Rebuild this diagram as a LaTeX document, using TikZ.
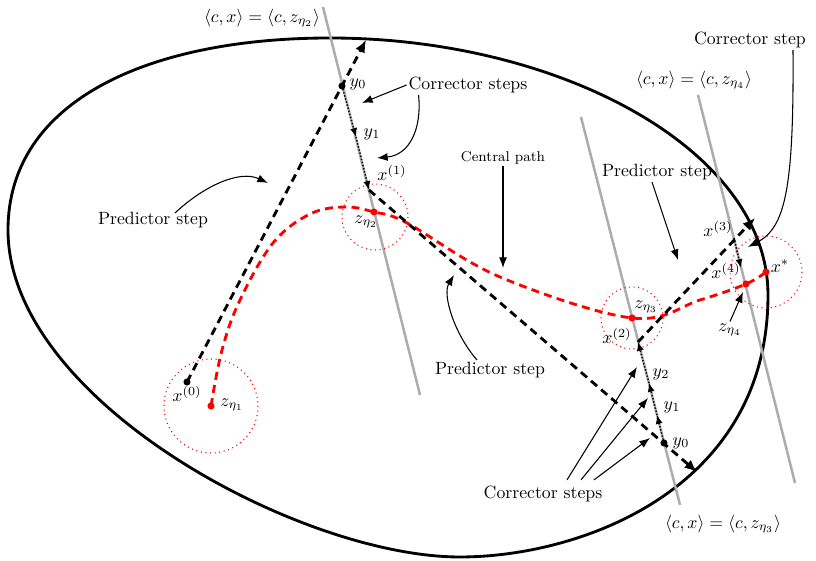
\documentclass[tikz,border=0pt]{standalone}
\usepackage{amsmath}
\usepackage{tikz}
\usetikzlibrary{arrows.meta, calc}

\begin{document}
\begin{tikzpicture}[
  x=0.0198cm, y=-0.0198cm,
  region/.style={ultra thick},
  level/.style={line width=1.4pt, gray!65},
  pred/.style={ultra thick, dash pattern=on 4.5pt off 3pt,
               -{Latex[length=7pt,width=6pt]}},
  corr/.style={thick, densely dotted, -{Latex[length=5pt,width=4pt]}},
  cpath/.style={ultra thick, red, dash pattern=on 4.5pt off 3pt},
  nbhd/.style={red, dotted, semithick},
  note/.style={semithick, -{Latex[length=6pt,width=4.5pt]}},
  lbl/.style={inner sep=1pt},
  dot/.style={circle, fill, inner sep=0pt, minimum size=4pt}
]
\useasboundingbox (0,0) rectangle (816,561);

%% feasible region
\draw[region] (8,230) .. controls (8,100) and (150,38) .. (330,38)
  .. controls (560,38) and (768,150) .. (768,295)
  .. controls (768,490) and (580,557) .. (460,557)
  .. controls (300,557) and (8,400) .. cycle;

%% level sets
\coordinate (h2a) at (323,7);   \coordinate (h2b) at (420,395);
\coordinate (h3a) at (581,117); \coordinate (h3b) at (680,505);
\coordinate (h4a) at (698,95);  \coordinate (h4b) at (795,483);
\draw[level] (h2a) -- (h2b);
\draw[level] (h3a) -- (h3b);
\draw[level] (h4a) -- (h4b);

%% iterates
\coordinate (x0)   at (187,382);
\coordinate (y0a)  at (342,86);
\coordinate (tip1) at (366,40);
\coordinate (y1a)  at (356,137);
\coordinate (x1)   at (369,190);
\coordinate (y0b)  at (664,443);
\coordinate (tip2) at (697,472);
\coordinate (y1b)  at (657,415);
\coordinate (y2b)  at (649,383);
\coordinate (x2)   at (638,342);
\coordinate (x3)   at (734,238);
\coordinate (tip3) at (755,218);
\coordinate (x4)   at (741,268);

%% central path
\coordinate (z1) at (211,406);
\coordinate (z2) at (374,212);
\coordinate (z3) at (632,318);
\coordinate (z4) at (746,284);
\coordinate (xs) at (766,272);

\draw[nbhd] (z1) circle (47);
\draw[nbhd] (375,217) circle (33);
\draw[nbhd] (z3) circle (31);
\draw[nbhd] (xs) circle (36);

\draw[cpath] plot[smooth, tension=0.6] coordinates {
  (z1) (222,350) (240,300) (273,243) (310,214) (345,207) (z2) (407,223)
  (500,277) (z3) (700,300) (z4) (xs)};

\draw[pred] (x0) -- (tip1);
\draw[corr] (y0a) -- (y1a);
\draw[corr] (y1a) -- (x1);
\draw[pred] (x1) -- (tip2);
\draw[corr] (y0b) -- (y1b);
\draw[corr] (y1b) -- (y2b);
\draw[corr] (y2b) -- (x2);
\draw[pred] (x2) -- (tip3);
\draw[corr] (x3) -- (x4);

\foreach \p in {x0, y0a, y0b}
  \node[dot] at (\p) {};
\foreach \p in {z1, z2, z3, z4, xs}
  \node[dot, red] at (\p) {};

%% point labels
\node[lbl] (lx0)  at (187,394) {$x^{(0)}$};
\node[lbl] (lz1)  at (232,405) {$z_{\eta_1}$};
\node[lbl] (ly0a) at (358,84)  {$y_0$};
\node[lbl] (ly1a) at (372,134) {$y_1$};
\node[lbl] (lx1)  at (392,173) {$x^{(1)}$};
\node[lbl] (lz2)  at (366,222) {$z_{\eta_2}$};
\node[lbl] (lz3)  at (646,307) {$z_{\eta_3}$};
\node[lbl] (lx2)  at (617,336) {$x^{(2)}$};
\node[lbl] (ly2b) at (661,374) {$y_2$};
\node[lbl] (ly1b) at (672,407) {$y_1$};
\node[lbl] (ly0b) at (681,443) {$y_0$};
\node[lbl] (lx3)  at (718,229) {$x^{(3)}$};
\node[lbl] (lx4)  at (726,271) {$x^{(4)}$};
\node[lbl] (lxs)  at (780,266) {$x^*$};
\node[lbl] (lz4)  at (730,330) {$z_{\eta_4}$};

%% level set labels
\node[lbl] (eq2) at (262,18)  {$\langle c,x\rangle=\langle c,z_{\eta_2}\rangle$};
\node[lbl] (eq4) at (694,80)  {$\langle c,x\rangle=\langle c,z_{\eta_4}\rangle$};
\node[lbl] (eq3) at (723,524) {$\langle c,x\rangle=\langle c,z_{\eta_3}\rangle$};

%% annotations
\node[lbl] (ps1) at (153,220) {Predictor step};
\node[lbl] (ps2) at (490,370) {Predictor step};
\node[lbl] (ps3) at (657,172) {Predictor step};
\node[lbl] (cs1) at (468,85)  {Corrector steps};
\node[lbl] (cs2) at (543,494) {Corrector steps};
\node[lbl] (cs3) at (750,40)  {Corrector step};
\node[lbl, font=\footnotesize] (cp) at (503,158) {Central path};

\coordinate (a1) at (268,183);
\coordinate (a2) at (362,103);
\coordinate (a3) at (377,158);
\coordinate (a4) at (748,247);
\coordinate (a5) at (678,260);
\coordinate (a6) at (743,292);
\coordinate (a7) at (503,268);
\coordinate (a8) at (454,275);
\coordinate (a9) at (637,367);
\coordinate (a10) at (648,398);
\coordinate (a11) at (650,438);

\draw[note] ($(ps1.north)+(22,3)$) .. controls (205,185) and (240,170) .. (a1);
\draw[note] (cs1.west) -- (a2);
\draw[note] ($(cs1.south west)+(12,0)$) .. controls (422,128) and (410,155) .. (a3);
\draw[note] ($(cs3.south)+(43,0)$) .. controls (794,190) and (785,228) .. (a4);
\draw[note] ($(ps3.south)+(-5,0)$) -- (a5);
\draw[note] (lz4.north) -- (a6);
\draw[note] (cp.south) -- (a7);
\draw[note] ($(ps2.north)+(-13,0)$) .. controls (455,335) and (442,295) .. (a8);
\draw[note] ($(cs2.north)+(24,-4)$) -- (a9);
\draw[note] ($(cs2.north)+(38,-4)$) -- (a10);
\draw[note] ($(cs2.north)+(51,-4)$) -- (a11);

\end{tikzpicture}
\end{document}
